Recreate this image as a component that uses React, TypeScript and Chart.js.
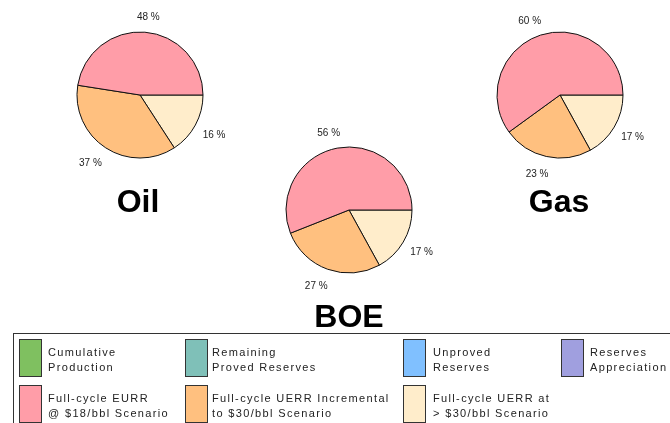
import React, { useEffect, useRef } from "react";
import { Chart, registerables } from "chart.js";

Chart.register(...registerables);

// Slice categories (legend order of the three used series)
const sliceLabels = ["Full-cycle EURR @ $18/bbl Scenario", "Full-cycle UERR Incremental to $30/bbl Scenario", "Full-cycle UERR at > $30/bbl Scenario"];
const sliceColors = ["#FF9DA8", "#FFC07F", "#FFEDCB"];

// Percent values per resource
const oilValues = [48, 37, 16];
const boeValues = [56, 27, 17];
const gasValues = [60, 23, 17];

// Legend rows
const legendRow1 = ["Cumulative\nProduction", "Remaining\nProved Reserves", "Unproved\nReserves", "Reserves\nAppreciation"];
const legendRow1Colors = ["#7FC060", "#7FC0B8", "#80C0FF", "#A09FDF"];
const legendRow2 = ["Full-cycle EURR\n@ $18/bbl Scenario", "Full-cycle UERR Incremental\nto $30/bbl Scenario", "Full-cycle UERR at\n> $30/bbl Scenario"];
const legendRow2Colors = sliceColors;

const FONT = "'Liberation Sans', Arial, sans-serif";

const pctLabelPlugin = {
  id: "pctLabels",
  afterDatasetsDraw(chart: any) {
    const ctx = chart.ctx;
    const meta = chart.getDatasetMeta(0);
    const data = chart.data.datasets[0].data;
    ctx.save();
    ctx.font = `10px ${FONT}`;
    ctx.fillStyle = "#222";
    ctx.textAlign = "center";
    ctx.textBaseline = "middle";
    meta.data.forEach((arc: any, i: number) => {
      const mid = (arc.startAngle + arc.endAngle) / 2;
      const c = Math.cos(mid);
      const s = Math.sin(mid);
      const d = arc.outerRadius + 15;
      const x = arc.x + c * (d + 4) + (c < 0 ? -5 : 2);
      const y = arc.y + s * d + (s > 0 ? 3 : 0);
      ctx.fillText(`${data[i]} %`, x, y);
    });
    ctx.restore();
  },
};

function Pie({ values, left, top }: { values: number[]; left: number; top: number }) {
  const ref = useRef<HTMLCanvasElement>(null);
  useEffect(() => {
    if (!ref.current) return;
    // drawn clockwise from 3 o'clock, so reverse to get counter-clockwise order
    const chart = new Chart(ref.current, {
      type: "pie",
      data: {
        labels: [...sliceLabels].reverse(),
        datasets: [
          {
            data: [...values].reverse(),
            backgroundColor: [...sliceColors].reverse(),
            borderColor: "#111",
            borderWidth: 1,
            hoverOffset: 0,
          },
        ],
      },
      options: {
        animation: false,
        responsive: false,
        maintainAspectRatio: false,
        devicePixelRatio: 1,
        rotation: 90,
        radius: 63,
        layout: { padding: 0 },
        plugins: { legend: { display: false }, tooltip: { enabled: false } },
      } as any,
      plugins: [pctLabelPlugin],
    });
    return () => chart.destroy();
  }, [values]);
  return (
    <canvas
      ref={ref}
      width={220}
      height={190}
      style={{ position: "absolute", left, top, width: 220, height: 190 }}
    />
  );
}

function Title({ text, cx, top }: { text: string; cx: number; top: number }) {
  return (
    <div
      style={{
        position: "absolute",
        left: cx - 60,
        width: 120,
        top,
        textAlign: "center",
        font: `bold 32px ${FONT}`,
        lineHeight: "32px",
        color: "#000",
      }}
    >
      {text}
    </div>
  );
}

const swatchX = [19, 185, 403, 561];
const textX = [48, 212, 433, 590];

function LegendItem({ label, color, col, row }: { label: string; color: string; col: number; row: number }) {
  const swTop = row === 0 ? 339 : 385;
  const txTop = row === 0 ? 345 : 391;
  return (
    <>
      <div
        style={{
          position: "absolute",
          left: swatchX[col],
          top: swTop,
          width: 21,
          height: 36,
          background: color,
          border: "1px solid #333",
        }}
      />
      <div
        style={{
          position: "absolute",
          left: textX[col],
          top: txTop,
          font: `11px ${FONT}`,
          lineHeight: "14.5px",
          letterSpacing: "1.35px",
          color: "#222",
          whiteSpace: "pre",
        }}
      >
        {label}
      </div>
    </>
  );
}

export default function App() {
  return (
    <div style={{ position: "absolute", left: 0, top: 0, width: 670, height: 423, overflow: "hidden", background: "#fff" }}>
      <Pie values={oilValues} left={30} top={0} />
      <Pie values={boeValues} left={239} top={115} />
      <Pie values={gasValues} left={450} top={0} />
      <Title text="Oil" cx={138} top={185} />
      <Title text="Gas" cx={559} top={185} />
      <Title text="BOE" cx={349} top={300} />
      <div
        style={{
          position: "absolute",
          left: 13,
          top: 333,
          width: 700,
          height: 120,
          border: "1px solid #333",
          boxSizing: "border-box",
        }}
      />
      {legendRow1.map((l, i) => (
        <LegendItem key={"a" + i} label={l} color={legendRow1Colors[i]} col={i} row={0} />
      ))}
      {legendRow2.map((l, i) => (
        <LegendItem key={"b" + i} label={l} color={legendRow2Colors[i]} col={i} row={1} />
      ))}
    </div>
  );
}
